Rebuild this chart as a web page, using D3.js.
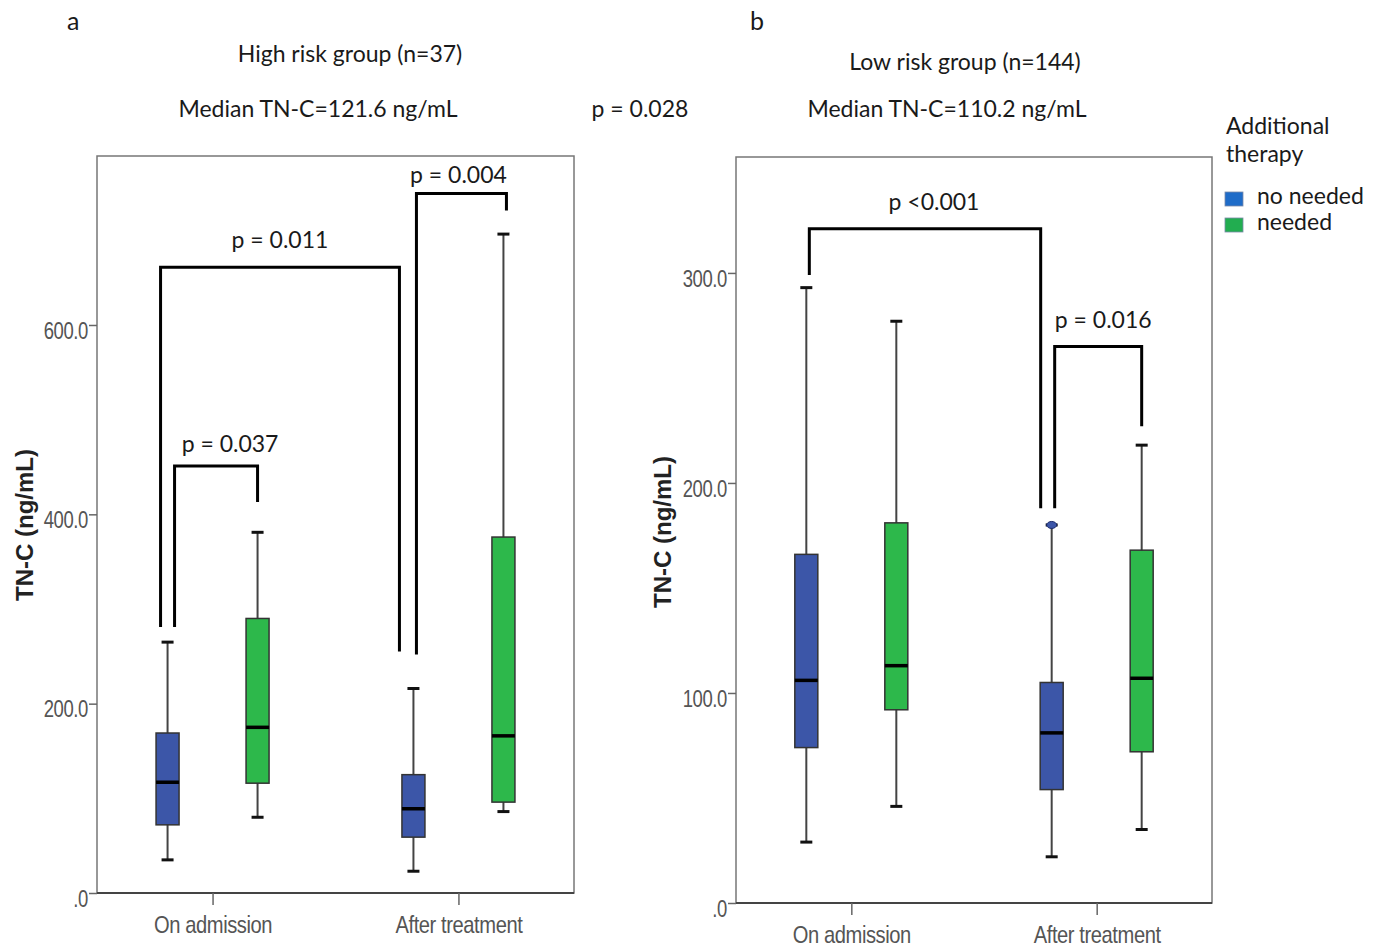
<!DOCTYPE html>
<html>
<head>
<meta charset="utf-8">
<script src="https://cdn.jsdelivr.net/npm/d3@7"></script>
<style>
    body { margin: 0; background: #fff; }
    .title { font-family: Lato, 'Open Sans', sans-serif; font-size: 23px; fill: #1a1a1a; }
    .letter { font-family: Lato, 'Open Sans', sans-serif; font-size: 25px; fill: #1a1a1a; }
    .axis text { font-family: 'Liberation Sans Narrow', 'Arial Narrow', 'Liberation Sans', Arial, sans-serif; font-size: 24px; fill: #555; letter-spacing: -0.5px; }
    .axis line { stroke: #666; stroke-width: 1.5; }
    .ylabel { font-family: 'Liberation Sans', Arial, sans-serif; font-weight: bold; font-size: 24px; fill: #222; }
</style>
</head>
<body>
<script>
// ----- data -----
var categories = ['On admission', 'After treatment'];
var seriesNames = ['no needed', 'needed'];

// [min, q1, median, q3, max] per category
var highNoNeeded = [[35, 72, 117, 169, 265], [23, 59, 89, 125, 216]];
var highNeeded   = [[80, 116, 175, 290, 381], [86, 96, 166, 376, 696]];
var lowNoNeeded  = [[29, 74, 106, 166, 293], [22, 54, 81, 105, 180]];
var lowNeeded    = [[46, 92, 113, 181, 277], [35, 72, 107, 168, 218]];
var lowOutliers  = [{cat: 'After treatment', series: 0, value: 180}];

var highTicks = [0, 200, 400, 600];
var lowTicks = [0, 100, 200, 300];

// brackets: ends are [category, series], heights in ng/mL
var highBrackets = [
    {label: 'p = 0.037', a: ['On admission', 0], b: ['On admission', 1], top: 451, footA: 281, footB: 413, textAt: 466},
    {label: 'p = 0.011', a: ['On admission', 0], b: ['After treatment', 0], top: 661, footA: 281, footB: 255, textAt: 681},
    {label: 'p = 0.004', a: ['After treatment', 0], b: ['After treatment', 1], top: 739, footA: 252, footB: 721, textAt: 750}
];
var lowBrackets = [
    {label: 'p <0.001', a: ['On admission', 0], b: ['After treatment', 0], top: 321, footA: 299, footB: 188, textAt: 330},
    {label: 'p = 0.016', a: ['After treatment', 0], b: ['After treatment', 1], top: 265, footA: 188, footB: 227, textAt: 274}
];

var panelLetters = ['a', 'b'];
var panelTitles = ['High risk group (n=37)', 'Low risk group (n=144)'];
var panelMedians = ['Median TN-C=121.6 ng/mL', 'Median TN-C=110.2 ng/mL'];
var betweenP = 'p = 0.028';
var yTitle = 'TN-C (ng/mL)';
var legendTitle = ['Additional', 'therapy'];

// ----- layout / style -----
var W = 1379, H = 950;
var fills = ['#3c56a8', '#2db84b'];
var legendFills = ['#1f6cc8', '#22ad50'];
var p = {
    panels: [
        {x0: 97, x1: 574, y0: 156, y1: 893, yMax: 778.5, ticks: highTicks,
         boxes: [highNoNeeded, highNeeded], outliers: [], brackets: highBrackets,
         nudge: [[7, 0, 14], [-7, -14, 0], [3, 3, -3]],
         letter: {x: 67, y: 30}, title: {x: 350, y: 62}, median: {x: 318, y: 117}, ylab: {x: 33, y: 525}},
        {x0: 736, x1: 1212, y0: 157, y1: 903, yMax: 355.2, ticks: lowTicks,
         boxes: [lowNoNeeded, lowNeeded], outliers: lowOutliers, brackets: lowBrackets,
         nudge: [[3, -11, 9], [3, 0, 5]],
         letter: {x: 750, y: 30}, title: {x: 965, y: 70}, median: {x: 947, y: 117}, ylab: {x: 671, y: 532}}
    ],
    seriesOffset: 45,
    boxWidth: 23,
    capWidth: 12,
    yTickSqueeze: 0.77,
    xTickSqueeze: 0.84
};

var svg = d3.select('body').append('svg')
    .attr('width', W)
    .attr('height', H);

p.panels.forEach(function(cfg, i) {
    var g = svg.append('g');

    var x = d3.scalePoint()
        .domain(categories)
        .range([cfg.x0, cfg.x1])
        .padding(0.47);
    var y = d3.scaleLinear()
        .domain([0, cfg.yMax])
        .range([cfg.y1, cfg.y0]);
    var xs = function(cat, s) { return x(cat) + (s === 0 ? -p.seriesOffset : p.seriesOffset); };

    //-----  Frame  -----//
    g.append('rect')
        .attr('x', cfg.x0).attr('y', cfg.y0)
        .attr('width', cfg.x1 - cfg.x0).attr('height', cfg.y1 - cfg.y0)
        .attr('fill', 'none').attr('stroke', '#777').attr('stroke-width', 1.5);
    g.append('line')
        .attr('x1', cfg.x0).attr('x2', cfg.x1)
        .attr('y1', cfg.y1).attr('y2', cfg.y1)
        .attr('stroke', '#444').attr('stroke-width', 2);

    //-----  Axes  -----//
    var yAxis = g.append('g')
        .attr('class', 'axis')
        .attr('transform', 'translate(' + cfg.x0 + ',0)')
        .call(d3.axisLeft(y)
            .tickValues(cfg.ticks)
            .tickSize(8)
            .tickFormat(function(v) { return v === 0 ? '.0' : v.toFixed(1); }));
    yAxis.select('.domain').remove();
    // condensed look of the original (narrow font not installed)
    yAxis.selectAll('.tick text')
        .attr('x', 0)
        .attr('dy', '0.55em')
        .attr('transform', 'translate(-9,0) scale(' + p.yTickSqueeze + ',1)');

    var xAxis = g.append('g')
        .attr('class', 'axis')
        .attr('transform', 'translate(0,' + cfg.y1 + ')')
        .call(d3.axisBottom(x).tickSize(12));
    xAxis.select('.domain').remove();
    xAxis.selectAll('.tick line').attr('stroke', '#444').attr('stroke-width', 2);
    xAxis.selectAll('.tick text')
        .attr('y', 40).attr('dy', 0)
        .attr('transform', 'scale(' + p.xTickSqueeze + ',1)');

    //-----  Boxes  -----//
    cfg.boxes.forEach(function(boxes, s) {
        boxes.forEach(function(b, c) {
            var cx = xs(categories[c], s);
            var bg = g.append('g');
            bg.append('line')
                .attr('x1', cx).attr('x2', cx)
                .attr('y1', y(b[0])).attr('y2', y(b[4]))
                .attr('stroke', '#444').attr('stroke-width', 2);
            [b[0], b[4]].forEach(function(v) {
                bg.append('line')
                    .attr('x1', cx - p.capWidth / 2).attr('x2', cx + p.capWidth / 2)
                    .attr('y1', y(v)).attr('y2', y(v))
                    .attr('stroke', '#111').attr('stroke-width', 3);
            });
            bg.append('rect')
                .attr('x', cx - p.boxWidth / 2)
                .attr('y', y(b[3]))
                .attr('width', p.boxWidth)
                .attr('height', y(b[1]) - y(b[3]))
                .attr('fill', fills[s])
                .attr('stroke', '#333').attr('stroke-width', 1.5);
            bg.append('line')
                .attr('x1', cx - p.boxWidth / 2).attr('x2', cx + p.boxWidth / 2)
                .attr('y1', y(b[2])).attr('y2', y(b[2]))
                .attr('stroke', '#000').attr('stroke-width', 3.5);
        });
    });

    cfg.outliers.forEach(function(o) {
        g.append('ellipse')
            .attr('cx', xs(o.cat, o.series))
            .attr('cy', y(o.value))
            .attr('rx', 5).attr('ry', 3.5)
            .attr('fill', fills[o.series])
            .attr('stroke', '#1a2a6a').attr('stroke-width', 1);
    });

    //-----  Brackets  -----//
    cfg.brackets.forEach(function(br, k) {
        var n = cfg.nudge[k];
        var xa = xs(br.a[0], br.a[1]) + n[0];
        var xb = xs(br.b[0], br.b[1]) + n[1];
        g.append('path')
            .attr('d', d3.line()([[xa, y(br.footA)], [xa, y(br.top)], [xb, y(br.top)], [xb, y(br.footB)]]))
            .attr('fill', 'none')
            .attr('stroke', '#000')
            .attr('stroke-width', 3);
        g.append('text')
            .attr('class', 'title')
            .attr('x', (xa + xb) / 2 + n[2])
            .attr('y', y(br.textAt))
            .attr('text-anchor', 'middle')
            .text(br.label);
    });

    //-----  Titles  -----//
    svg.append('text').attr('class', 'letter')
        .attr('x', cfg.letter.x).attr('y', cfg.letter.y)
        .text(panelLetters[i]);
    svg.append('text').attr('class', 'title')
        .attr('x', cfg.title.x).attr('y', cfg.title.y)
        .attr('text-anchor', 'middle')
        .text(panelTitles[i]);
    svg.append('text').attr('class', 'title')
        .attr('x', cfg.median.x).attr('y', cfg.median.y)
        .attr('text-anchor', 'middle')
        .text(panelMedians[i]);
    svg.append('text').attr('class', 'ylabel')
        .attr('transform', 'translate(' + cfg.ylab.x + ',' + cfg.ylab.y + ') rotate(-90)')
        .attr('text-anchor', 'middle')
        .text(yTitle);
});

svg.append('text').attr('class', 'title')
    .attr('x', 640).attr('y', 117)
    .attr('text-anchor', 'middle')
    .text(betweenP);

//-----  Legend  -----//
var legend = svg.append('g').attr('transform', 'translate(1225,0)');
legendTitle.forEach(function(t, i) {
    legend.append('text').attr('class', 'title')
        .attr('x', 1).attr('y', 134 + i * 28)
        .text(t);
});
seriesNames.forEach(function(s, i) {
    legend.append('rect')
        .attr('x', 0).attr('y', 192 + i * 26)
        .attr('width', 18).attr('height', 14)
        .attr('fill', legendFills[i])
        .attr('stroke', '#7a8aa8').attr('stroke-width', 0.8);
    legend.append('text').attr('class', 'title')
        .attr('x', 32).attr('y', 204 + i * 26)
        .text(s);
});
</script>
</body>
</html>
